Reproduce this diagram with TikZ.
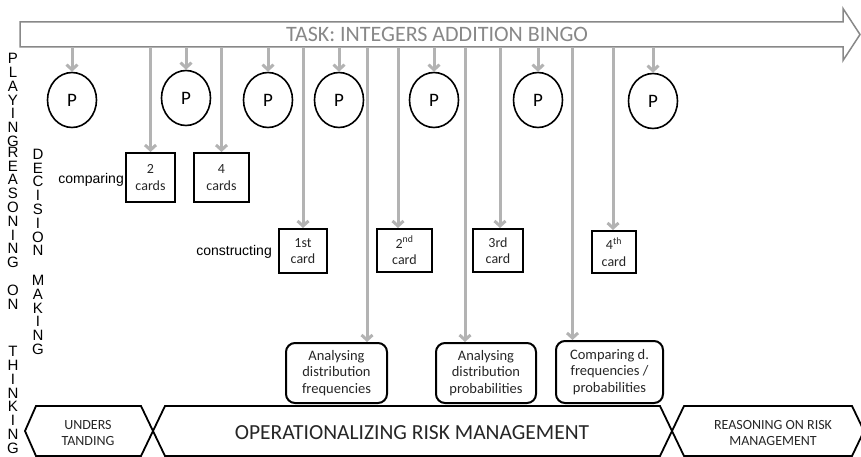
\documentclass[tikz,border=0pt]{standalone}
\usepackage{fontspec}
\setmainfont{Carlito}
\newfontfamily\arialfont{Liberation Sans}
\usetikzlibrary{arrows.meta,shapes.geometric}

\definecolor{feedgray}{HTML}{B3B3B3}
\definecolor{taskgray}{HTML}{888888}
\definecolor{inkgray}{HTML}{262626}

\tikzset{
  feed/.style={draw=feedgray, line width=3pt, -{Straight Barb[length=5pt,width=11pt]}},
  player/.style={draw, ellipse, line width=1.6pt, minimum width=49pt, minimum height=55pt,
    inner sep=0pt, font=\fontsize{19}{20}\selectfont},
  card/.style={draw, line width=2pt, align=center, inner sep=0pt, text=inkgray,
    font=\fontsize{14}{16.5}\selectfont},
  phase/.style={draw, line width=2pt, rounded corners=9pt, align=center, inner sep=0pt,
    text=inkgray, font=\fontsize{14.5}{16.5}\selectfont},
  band/.style={draw, line width=1.8pt, line join=miter},
  bandtext/.style={align=center, text=inkgray, font=\fontsize{14}{16.5}\selectfont},
  stack/.style={align=center, inner sep=0pt, font=\arialfont\fontsize{15}{13.8}\selectfont},
  side/.style={inner sep=0pt, font=\arialfont\fontsize{14}{16}\selectfont}
}

\begin{document}
\begin{tikzpicture}[x=1pt,y=-1pt]
\useasboundingbox (0,0) rectangle (861,457);

% task arrow along the top
\draw[draw=taskgray, line width=1.5pt, fill=white]
  (20,22) -- (843,22) -- (843,8.5) -- (860,34.5) -- (843,60.5) -- (843,47) -- (20,47) -- cycle;
\coordinate (base) at (0,47);
\node[text=taskgray, font=\fontsize{22}{24}\selectfont] (task) at (437,34.5)
  {TASK: INTEGERS ADDITION BINGO};

% vertical labels on the left
\node[stack] (playing) at (13,100) {P\\L\\A\\Y\\I\\N\\G};
\node[stack] (reasoning) at (13,207.5) {R\\E\\A\\S\\O\\N\\I\\N\\G};
\node[stack] (on) at (13,297.5) {O\\N};
\node[stack] (decision) at (38,202.5) {D\\E\\C\\I\\S\\I\\O\\N};
\node[stack] (making) at (38,315) {M\\A\\K\\I\\N\\G};
\node[stack] (thinking) at (13,400) {T\\H\\I\\N\\K\\I\\N\\G};

% players
\node[player] (p1) at (72,100) {P};
\node[player] (p2) at (186,98) {P};
\node[player] (p3) at (268,100) {P};
\node[player] (p4) at (339,100) {P};
\node[player] (p5) at (434,100) {P};
\node[player] (p6) at (538,100) {P};
\node[player] (p7) at (653,101) {P};

% cards
\node[card, minimum width=49pt, minimum height=49pt] (twocards) at (150.5,177.5) {2\\cards};
\node[card, minimum width=55pt, minimum height=49pt] (fourcards) at (221.5,177.5) {4\\cards};
\node[card, minimum width=48pt, minimum height=44pt] (first) at (303,251) {1st\\card};
\node[card, minimum width=55pt, minimum height=43pt] (second) at (404.5,250.5) {2\textsuperscript{nd}\\card};
\node[card, minimum width=50pt, minimum height=43pt] (third) at (498,250.5) {3rd\\card};
\node[card, minimum width=44pt, minimum height=42pt] (fourth) at (614,252) {4\textsuperscript{th}\\card};

\node[side, anchor=east] (comparing) at ([xshift=-1pt,yshift=-2.5pt]twocards.west) {comparing};
\node[side, anchor=east] (constructing) at ([xshift=-6pt,yshift=-1pt]first.west) {constructing};

% analysis steps
\node[phase, minimum width=101pt, minimum height=60pt] (freq) at (336.5,373) {Analysing\\distribution\\frequencies};
\node[phase, minimum width=100pt, minimum height=60pt] (prob) at (486,373) {Analysing\\distribution\\probabilities};
\node[phase, minimum width=107pt, minimum height=62pt] (comp) at (609.5,372) {Comparing d.\\frequencies /\\probabilities};

% feeds from the task
\draw[feed] (base -| p1) -- (p1);
\draw[feed] (base -| p2) -- (p2);
\draw[feed] (base -| p3) -- (p3);
\draw[feed] (base -| p4) -- (p4);
\draw[feed] (base -| p5) -- (p5);
\draw[feed] (base -| p6) -- (p6);
\draw[feed] (base -| p7) -- (p7);
\draw[feed] (base -| twocards) -- (twocards.north);
\draw[feed] (base -| fourcards) -- (fourcards.north);
\draw[feed] (base -| first) -- (first.north);
\draw[feed] ([xshift=-6.5pt]second.north |- base) -- ([xshift=-6.5pt]second.north);
\draw[feed] ([xshift=2pt]third.north |- base) -- ([xshift=2pt]third.north);
\draw[feed] ([xshift=-1pt]fourth.north |- base) -- ([xshift=-1pt]fourth.north);
\draw[feed] ([xshift=30.5pt]freq.north |- base) -- ([xshift=30.5pt]freq.north);
\draw[feed] ([xshift=-21pt]prob.north |- base) -- ([xshift=-21pt]prob.north);
\draw[feed] ([xshift=-37pt]comp.north |- base) -- ([xshift=-37pt]comp.north);

% phases along the bottom
\draw[band] (25,431) -- (36,406) -- (141,406) -- (153,431) -- (141,456) -- (36,456) -- cycle;
\draw[band] (153,431) -- (165,406) -- (660,406) -- (672,431) -- (660,456) -- (165,456) -- cycle;
\draw[band] (672,431) -- (684,406) -- (852,406) -- (864,431) -- (852,456) -- (684,456) -- cycle;
\node[bandtext] (under) at (88,433) {UNDERS\\TANDING};
\node[bandtext, font=\fontsize{21.5}{24}\selectfont] (oper) at (412,433) {OPERATIONALIZING RISK MANAGEMENT};
\node[bandtext] (reason) at (773,433) {REASONING ON RISK\\MANAGEMENT};
\end{tikzpicture}
\end{document}
